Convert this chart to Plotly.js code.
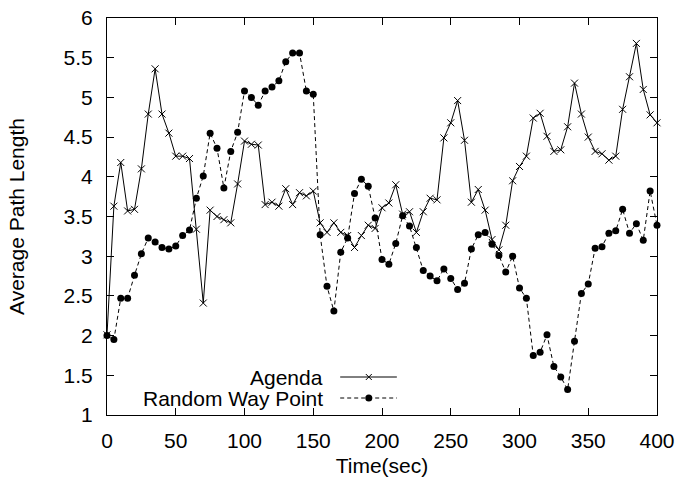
<!DOCTYPE html>
<html>
<head>
<meta charset="utf-8">
<script src="https://cdn.plot.ly/plotly-3.0.1.min.js"></script>
<style>html,body{margin:0;padding:0;background:#fff;}#chart{width:678px;height:479px;}</style>
</head>
<body>
<div id="chart"></div>
<script>
// time in seconds (every 5 s)
var time = [0,5,10,15,20,25,30,35,40,45,50,55,60,65,70,75,80,85,90,95,
  100,105,110,115,120,125,130,135,140,145,150,155,160,165,170,175,180,185,190,195,
  200,205,210,215,220,225,230,235,240,245,250,255,260,265,270,275,280,285,290,295,
  300,305,310,315,320,325,330,335,340,345,350,355,360,365,370,375,380,385,390,395,400];

var agenda = [2.01,3.63,4.18,3.57,3.59,4.10,4.79,5.36,4.79,4.55,4.26,4.26,4.23,3.34,2.41,3.58,3.50,3.46,3.42,3.91,
  4.45,4.41,4.40,3.65,3.68,3.63,3.85,3.65,3.80,3.76,3.82,3.42,3.30,3.42,3.30,3.26,3.11,3.26,3.39,3.35,
  3.61,3.67,3.90,3.53,3.56,3.30,3.56,3.73,3.71,4.49,4.68,4.96,4.46,3.68,3.84,3.58,3.21,3.08,3.39,3.95,
  4.13,4.26,4.74,4.80,4.51,4.32,4.34,4.63,5.18,4.79,4.50,4.32,4.29,4.21,4.26,4.85,5.26,5.68,5.10,4.78,4.68];

var randomWayPoint = [2.00,1.95,2.47,2.47,2.76,3.03,3.23,3.18,3.11,3.09,3.13,3.26,3.33,3.73,4.01,4.55,4.36,3.86,4.32,4.56,
  5.08,5.00,4.90,5.08,5.13,5.21,5.45,5.56,5.56,5.08,5.04,3.27,2.62,2.31,3.05,3.23,3.79,3.97,3.88,3.48,
  2.96,2.90,3.16,3.51,3.38,3.11,2.82,2.75,2.69,2.84,2.72,2.58,2.66,3.09,3.27,3.30,3.15,3.01,2.80,3.00,
  2.60,2.47,1.75,1.79,2.01,1.61,1.48,1.32,1.93,2.53,2.65,3.10,3.12,3.29,3.32,3.59,3.29,3.41,3.20,3.82,3.39];

var seriesNames = ["Agenda", "Random Way Point"];
var xTicks = [0,50,100,150,200,250,300,350,400];
var yTicks = [1,1.5,2,2.5,3,3.5,4,4.5,5,5.5,6];

var FONT = "Liberation Sans, Arial, Helvetica, sans-serif";
var FS = 21;

var traces = [
  {x: time, y: agenda, name: seriesNames[0], type: "scatter", mode: "lines+markers",
   line: {color: "#000", width: 1}, marker: {symbol: "x-thin-open", size: 7, color: "#000", line: {color: "#000", width: 1}},
   showlegend: false, cliponaxis: false},
  {x: time, y: randomWayPoint, name: seriesNames[1], type: "scatter", mode: "lines+markers",
   line: {color: "#000", width: 1, dash: "4px,3px"}, marker: {symbol: "circle", size: 7, color: "#000"},
   showlegend: false, cliponaxis: false},
  // legend samples (on a hidden 0..1 overlay axis)
  {x: [0.424, 0.476, 0.527], y: [0.0957, 0.0957, 0.0957], xaxis: "x2", yaxis: "y2", type: "scatter", mode: "lines",
   line: {color: "#000", width: 1}, showlegend: false, hoverinfo: "skip"},
  {x: [0.476], y: [0.0957], xaxis: "x2", yaxis: "y2", type: "scatter", mode: "markers",
   marker: {symbol: "x-thin-open", size: 6, color: "#000", line: {color: "#000", width: 1}}, showlegend: false, hoverinfo: "skip"},
  {x: [0.424, 0.527], y: [0.0428, 0.0428], xaxis: "x2", yaxis: "y2", type: "scatter", mode: "lines",
   line: {color: "#000", width: 1, dash: "4px,3px"}, showlegend: false, hoverinfo: "skip"},
  {x: [0.476], y: [0.0428], xaxis: "x2", yaxis: "y2", type: "scatter", mode: "markers",
   marker: {symbol: "circle", size: 7, color: "#000"}, showlegend: false, hoverinfo: "skip"}
];

var layout = {
  width: 678, height: 479,
  margin: {l: 107, r: 21, t: 18, b: 64},
  paper_bgcolor: "#fff", plot_bgcolor: "#fff",
  font: {family: FONT, size: FS, color: "#000"},
  showlegend: false,
  xaxis: {
    range: [0, 400], tickvals: xTicks, ticktext: xTicks.map(String),
    ticks: "inside", ticklen: 7, tickcolor: "#000", tickwidth: 1,
    showline: true, linecolor: "#000", linewidth: 1, mirror: "allticks",
    showgrid: false, zeroline: false, ticklabelstandoff: 7,
    tickfont: {family: FONT, size: FS},
    title: {text: "Time(sec)", font: {family: FONT, size: FS}, standoff: 7}
  },
  yaxis: {
    range: [1, 6], tickvals: yTicks, ticktext: yTicks.map(String),
    ticks: "inside", ticklen: 7, tickcolor: "#000", tickwidth: 1,
    showline: true, linecolor: "#000", linewidth: 1, mirror: "allticks",
    showgrid: false, zeroline: false, ticklabelstandoff: 9,
    tickfont: {family: FONT, size: FS},
    title: {text: "Average Path Length", font: {family: FONT, size: FS}, standoff: 33}
  },
  xaxis2: {overlaying: "x", range: [0, 1], visible: false, fixedrange: true},
  yaxis2: {overlaying: "y", range: [0, 1], visible: false, fixedrange: true},
  annotations: [
    {xref: "paper", yref: "paper", x: 0.396, y: 0.0957, xanchor: "right", yanchor: "middle",
     text: seriesNames[0], showarrow: false, font: {family: FONT, size: FS}},
    {xref: "paper", yref: "paper", x: 0.396, y: 0.0428, xanchor: "right", yanchor: "middle",
     text: seriesNames[1], showarrow: false, font: {family: FONT, size: FS}}
  ]
};

Plotly.newPlot("chart", traces, layout, {staticPlot: true, displayModeBar: false});
</script>
</body>
</html>
